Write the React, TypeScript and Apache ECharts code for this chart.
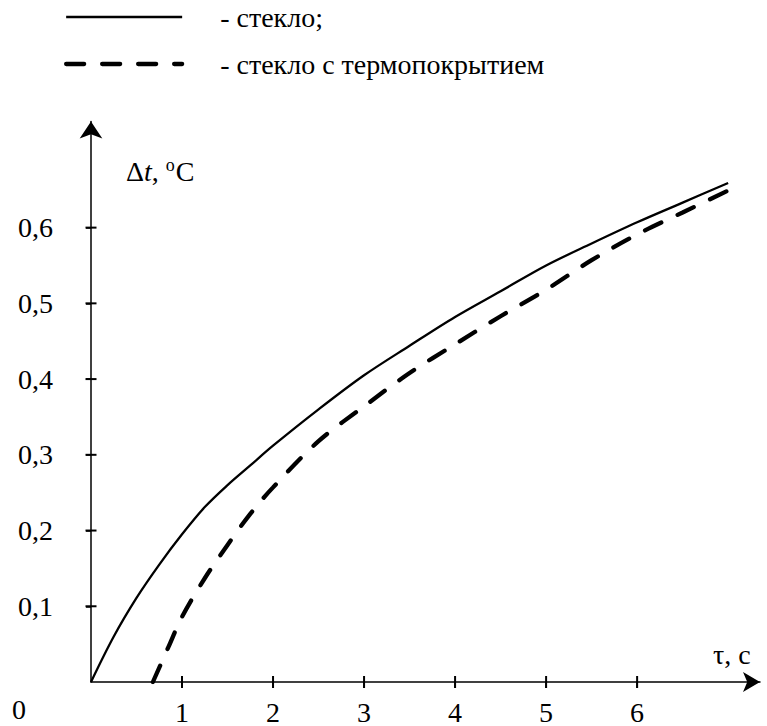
import React, { useEffect, useRef } from "react";
import * as echarts from "echarts";

const FONT = '"Liberation Serif", "Times New Roman", serif';

// Solid curve: glass
const glassTau = [0, 0.25, 0.5, 0.75, 1, 1.25, 1.5, 1.75, 2, 2.5, 3, 3.5, 4, 4.5, 5, 5.5, 6, 6.5, 7];
const glassDt = [0, 0.06, 0.111, 0.155, 0.195, 0.231, 0.26, 0.286, 0.312, 0.36, 0.405, 0.444, 0.482, 0.516, 0.55, 0.579, 0.607, 0.633, 0.659];

// Dashed curve: glass with thermal coating
const coatedTau = [0.68, 0.85, 1, 1.25, 1.5, 1.75, 2, 2.5, 3, 3.5, 4, 4.5, 5, 5.5, 6, 6.5, 7];
const coatedDt = [0, 0.046, 0.086, 0.137, 0.181, 0.222, 0.257, 0.318, 0.364, 0.408, 0.446, 0.483, 0.518, 0.557, 0.591, 0.62, 0.649];

const xTicks = [1, 2, 3, 4, 5, 6];
const yTicks = [0.1, 0.2, 0.3, 0.4, 0.5, 0.6];

const seriesNames = ["- стекло;", "- стекло с термопокрытием"];

const X_MAX = 7.35;
const Y_MAX = 0.74;

export default function App() {
  const ref = useRef<HTMLDivElement>(null);

  useEffect(() => {
    if (!ref.current) return;
    const chart = echarts.init(ref.current, null, { renderer: "svg" });
    const lineStyle = { color: "#000", width: 1.5 };

    const zip = (a: number[], b: number[]) => a.map((v, i) => [v, b[i]]);

    chart.setOption({
      animation: false,
      backgroundColor: "#fff",
      grid: { left: 91, right: 7, bottom: 42, top: 726 - 42 - Y_MAX * 760, containLabel: false },
      legend: {
        orient: "vertical",
        left: 64,
        top: 2,
        padding: 0,
        itemWidth: 116,
        itemHeight: 14,
        itemGap: 17,
        selectedMode: false,
        itemStyle: { opacity: 0 },
        lineStyle: { width: "inherit", type: "inherit", cap: "inherit" },
        textStyle: {
          fontFamily: FONT,
          fontSize: 28,
          color: "#000",
          lineHeight: 30,
          padding: [0, 0, 0, 33],
        },
        data: seriesNames,
      },
      xAxis: {
        type: "value",
        min: 0,
        max: X_MAX,
        position: "bottom",
        axisLine: {
          onZero: true,
          lineStyle,
          symbol: ["none", "arrow"],
          symbolSize: [15, 17],
        },
        axisTick: { show: true, customValues: xTicks, length: 6, lineStyle },
        axisLabel: {
          customValues: xTicks,
          margin: 16,
          fontFamily: FONT,
          fontSize: 28,
          color: "#000",
        },
        splitLine: { show: false },
      },
      yAxis: {
        type: "value",
        min: 0,
        max: Y_MAX,
        position: "left",
        axisLine: {
          show: true,
          onZero: true,
          lineStyle,
          symbol: ["none", "arrow"],
          symbolSize: [17, 17],
        },
        axisTick: { show: true, customValues: yTicks, length: 5, lineStyle },
        axisLabel: {
          customValues: yTicks,
          margin: 38,
          fontFamily: FONT,
          fontSize: 28,
          color: "#000",
          formatter: (v: number) => v.toFixed(1).replace(".", ","),
        },
        splitLine: { show: false },
      },
      graphic: [
        {
          type: "text",
          x: 12,
          y: 709,
          style: {
            text: "0",
            fontFamily: FONT,
            fontSize: 28,
            lineHeight: 24,
            fill: "#000",
            verticalAlign: "middle",
          },
        },
        {
          type: "text",
          x: 126,
          y: 156,
          style: {
            text: "{n|Δ}{i|t}{n|, }{s|o}{n|C}",
            fontFamily: FONT,
            fontSize: 28,
            fill: "#000",
            rich: {
              n: { fontFamily: FONT, fontSize: 28, fill: "#000", lineHeight: 30 },
              i: { fontFamily: FONT, fontSize: 28, fontStyle: "italic", fill: "#000", lineHeight: 30 },
              s: { fontFamily: FONT, fontSize: 18, fill: "#000", verticalAlign: "top", lineHeight: 30, padding: [0, 1, 12, 0] },
            },
          },
        },
        {
          type: "text",
          x: 713,
          y: 640,
          style: { text: "τ, с", fontFamily: FONT, fontSize: 28, fill: "#000" },
        },
      ],
      series: [
        {
          name: seriesNames[0],
          type: "line",
          data: zip(glassTau, glassDt),
          smooth: 0.33,
          symbol: "none",
          lineStyle: { color: "#000", width: 2.3 },
          itemStyle: { color: "#000" },
        },
        {
          name: seriesNames[1],
          type: "line",
          data: zip(coatedTau, coatedDt),
          smooth: 0.33,
          symbol: "none",
          lineStyle: { color: "#000", width: 4.3, type: [18, 18], cap: "round" },
          itemStyle: { color: "#000" },
        },
        {
          name: "xTicks",
          type: "scatter",
          silent: true,
          clip: false,
          data: xTicks.map((v) => [v, 0]),
          symbol: "rect",
          symbolSize: [2, 12],
          itemStyle: { color: "#000", opacity: 1 },
          z: 5,
        },
        {
          name: "yTicks",
          type: "scatter",
          silent: true,
          clip: false,
          data: yTicks.map((v) => [0, v]),
          symbol: "rect",
          symbolSize: [11, 2],
          itemStyle: { color: "#000", opacity: 1 },
          z: 5,
        },
      ],
    });
    return () => chart.dispose();
  }, []);

  return (
    <div
      ref={ref}
      style={{ position: "absolute", left: 0, top: 0, width: 767, height: 726 }}
    />
  );
}
